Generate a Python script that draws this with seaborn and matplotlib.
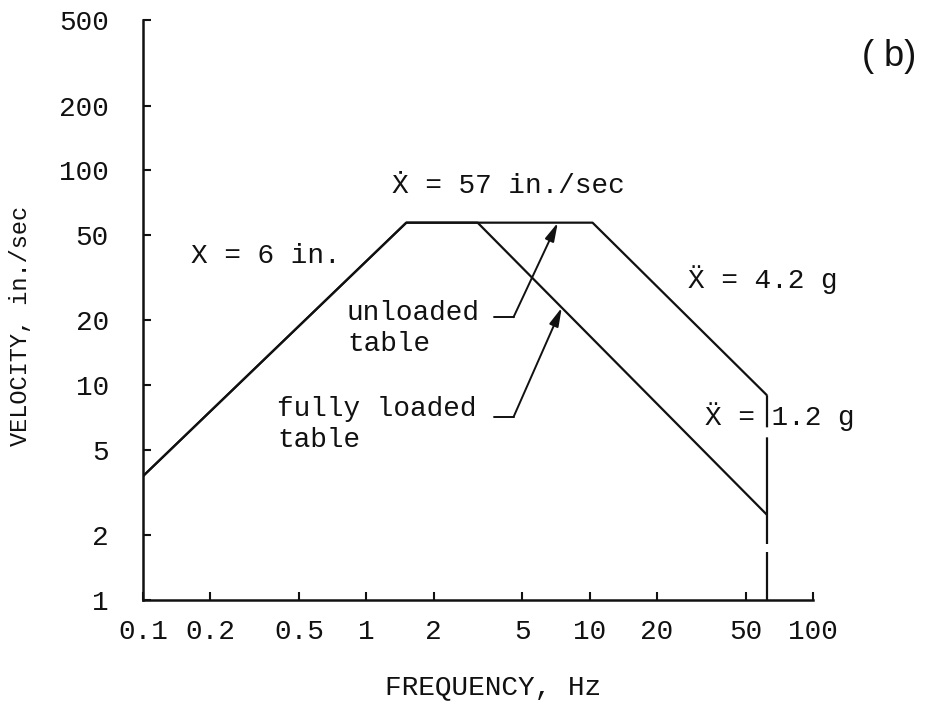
import numpy as np
import pandas as pd
import matplotlib
matplotlib.use("Agg")
import matplotlib.pyplot as plt
from matplotlib.ticker import FixedLocator, FixedFormatter, NullLocator
import seaborn as sns

# Shake-table performance envelope (velocity vs. frequency, log-log)
freq_unloaded = [0.1, 1.51, 10.3, 62.0]
vel_unloaded = [3.77, 57.0, 57.0, 9.0]

freq_loaded = [0.1, 1.51, 3.15, 62.0]
vel_loaded = [3.77, 57.0, 57.0, 2.5]

# frequency limit of the table
freq_limit = 62.0

x_ticks = [0.1, 0.2, 0.5, 1, 2, 5, 10, 20, 50, 100]
x_tick_labels = ["0.1", "0.2", "0.5", "1", "2", "5", "10", "20", "50", "100"]
y_ticks = [1, 2, 5, 10, 20, 50, 100, 200, 500]
y_tick_labels = ["1", "2", "5", "10", "20", "50", "100", "200", "500"]

df = pd.concat([
    pd.DataFrame({"freq": freq_unloaded, "vel": vel_unloaded, "table": "unloaded"}),
    pd.DataFrame({"freq": freq_loaded, "vel": vel_loaded, "table": "fully loaded"}),
], ignore_index=True)

sns.set_style("ticks")
plt.rcParams["font.family"] = ["Liberation Mono", "DejaVu Sans Mono"]
INK = "#111111"

fig = plt.figure(figsize=(9.28, 7.05), dpi=100)
ax = fig.add_axes([143 / 928, 1 - 600 / 705, 670 / 928, 580 / 705])
ax.set_xscale("log")
ax.set_yscale("log")

sns.lineplot(data=df, x="freq", y="vel", units="table", estimator=None,
             sort=False, color=INK, lw=1.6, ax=ax, legend=False)

# vertical frequency-limit line, long dashes
lw = 1.6
ax.plot([freq_limit, freq_limit], [1, vel_unloaded[-1]], color=INK, lw=lw,
        linestyle=(0, (21.6, 3.6, 48, 4.5, 14.4, 10)), clip_on=False)

ax.set_xlim(0.1, 100)
ax.set_ylim(1, 500)
ax.xaxis.set_major_locator(FixedLocator(x_ticks))
ax.xaxis.set_major_formatter(FixedFormatter(x_tick_labels))
ax.yaxis.set_major_locator(FixedLocator(y_ticks))
ax.yaxis.set_major_formatter(FixedFormatter(y_tick_labels))
ax.xaxis.set_minor_locator(NullLocator())
ax.yaxis.set_minor_locator(NullLocator())

for s in ["top", "right"]:
    ax.spines[s].set_visible(False)
for s in ["left", "bottom"]:
    ax.spines[s].set_linewidth(1.8)
    ax.spines[s].set_color(INK)

ax.tick_params(axis="both", direction="in", length=6, width=1.5, colors=INK,
               labelsize=20)
ax.tick_params(axis="y", pad=24.5)
ax.tick_params(axis="x", pad=14)

ax.set_xlabel("")
ax.set_ylabel("")
fig.text(493 / 928, 1 - 687 / 705, "FREQUENCY, Hz", ha="center", va="center",
         fontsize=20, color=INK)
fig.text(21 / 928, 1 - 326 / 705, "VELOCITY, in./sec", rotation=90,
         ha="center", va="center", fontsize=17, color=INK)

# panel tag
fig.text(862 / 928, 1 - 56 / 705, "( b)", ha="left", va="center", fontsize=26,
         family=["Liberation Sans", "DejaVu Sans"], color=INK)

def ax_pt(px, py):
    return ((px - 143) / 670, (600 - py) / 580)

tsize = 20
labels = [
    ("X = 6 in.", 191, 263),
    ("\u1E8A = 57 in./sec", 392, 193),
    ("\u1E8C = 4.2 g", 688, 288),
    ("\u1E8C = 1.2 g", 705, 425),
    ("unloaded", 347, 320),
    ("table", 347, 351),
    ("fully loaded", 277, 416),
    ("table", 277, 447),
]
for txt, px, py in labels:
    xx, yy = ax_pt(px, py)
    ax.text(xx, yy, txt, transform=ax.transAxes, ha="left", va="baseline",
            fontsize=tsize, color=INK)

# leader lines with arrows pointing at the curves
def leader(f0, f1, v, tip_f, freqs, vels):
    tip_v = 10 ** np.interp(np.log10(tip_f), np.log10(freqs), np.log10(vels))
    ax.plot([f0, f1], [v, v], color=INK, lw=1.4)
    ax.annotate("", xy=(tip_f, tip_v), xytext=(f1, v),
                arrowprops=dict(arrowstyle="-|>,head_length=0.7,head_width=0.18",
                                color=INK, lw=1.4, mutation_scale=16,
                                shrinkA=0, shrinkB=0))

leader(3.72, 4.56, 20.7, 7.2, freq_unloaded, vel_unloaded)
leader(3.72, 4.56, 7.1, 7.5, freq_loaded, vel_loaded)

fig.savefig("out.png", dpi=100, facecolor="white")
